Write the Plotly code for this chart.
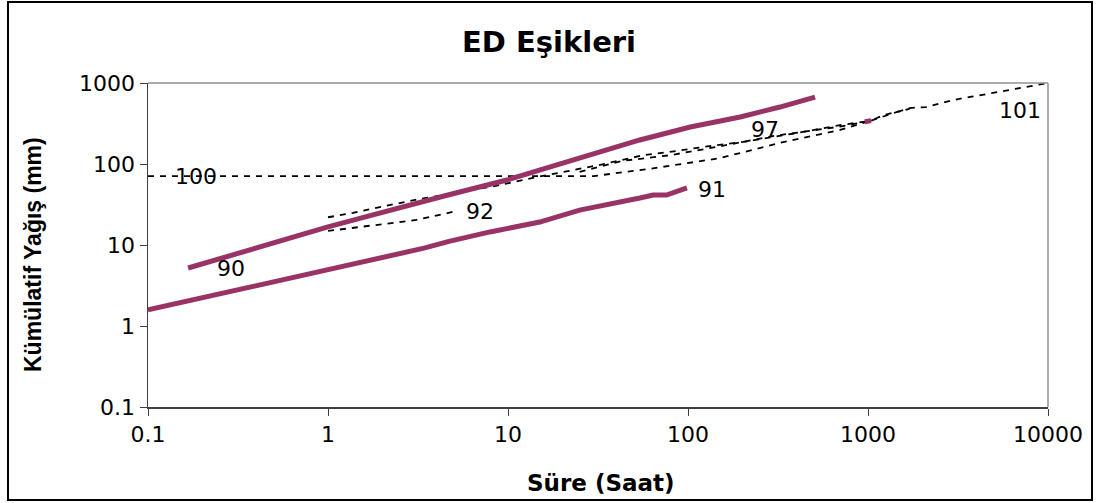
import math
import plotly.graph_objects as go

# ---- data ----
s90_x = [0.167, 0.316, 0.548, 1.0, 1.52, 2.54, 4.19, 4.64, 9.87, 23, 54, 103, 195, 324, 508]
s90_y = [5.2, 7.96, 11.5, 16.7, 21.5, 29.4, 39.2, 41.4, 63.4, 112, 198, 286, 380, 505, 671]

s91_x = [0.1, 0.41, 1.0, 1.97, 3.46, 4.64, 7.94, 15, 25, 54, 64, 76, 98.6]
s91_y = [1.58, 3.2, 4.9, 7.1, 9.2, 11.0, 14.5, 19.2, 27, 38, 41.4, 41.4, 50.6]

s100_x = [0.1, 1, 10, 30, 61, 150, 324, 700, 1026]
s100_y = [71, 71, 71, 71, 87, 118, 182, 263, 340]

s92_x = [1.0, 1.94, 3.1, 5.2]
s92_y = [14.9, 17.7, 20.4, 26.3]

s97_x = [1.0, 1.38, 1.94, 3.24, 5.4, 8.3, 15, 32, 57, 79, 121, 202, 403, 699, 1026, 1450, 1700]
s97_y = [22, 24.9, 29.4, 37, 45, 53, 70, 97, 129, 141, 162, 187, 241, 302, 340, 439, 480]

s101_x = [25, 43, 79, 150, 300, 700, 1026, 1230, 1450, 1700, 2100, 2970, 3700, 4950, 6150, 10000]
s101_y = [80, 109, 128, 165, 222, 290, 340, 403, 439, 491, 505, 617, 672, 752, 820, 1000]

dot_x = [960, 1040]
dot_y = [333, 343]

label_text = ["100", "90", "92", "91", "97", "101"]
label_x = [0.185, 0.289, 6.98, 136, 268, 6980]
label_y = [71, 5.2, 26, 47.9, 263, 464]

x_ticks = [0.1, 1, 10, 100, 1000, 10000]
x_tick_text = ["0.1", "1", "10", "100", "1000", "10000"]
y_ticks = [0.1, 1, 10, 100, 1000]
y_tick_text = ["0.1", "1", "10", "100", "1000"]

PURPLE = "#993366"
DASH = "6px,6px"

fig = go.Figure()
for xs, ys in [(s100_x, s100_y), (s92_x, s92_y), (s97_x, s97_y), (s101_x, s101_y)]:
    fig.add_trace(go.Scatter(x=xs, y=ys, mode="lines",
                             line=dict(color="black", width=1.8, dash=DASH),
                             hoverinfo="skip", showlegend=False))
for xs, ys in [(s90_x, s90_y), (s91_x, s91_y), (dot_x, dot_y)]:
    fig.add_trace(go.Scatter(x=xs, y=ys, mode="lines",
                             line=dict(color=PURPLE, width=5),
                             hoverinfo="skip", showlegend=False))

for t, lx, ly in zip(label_text, label_x, label_y):
    fig.add_annotation(x=math.log10(lx), y=math.log10(ly), text=t, showarrow=False,
                       font=dict(family="DejaVu Sans", size=22, color="black"),
                       xanchor="center", yanchor="middle")

# body margin is removed by a post script, so figure pixels = page pixels
W, H = 1098, 503
L, T = 148, 83
pw, ph = 900, 324
R = W - L - pw
B = H - T - ph

def px(xp):  # page pixel -> paper x
    return (xp - L) / pw

def py(yp):  # page pixel -> paper y
    return (T + ph - yp) / ph

fig.update_layout(
    width=W, height=H,
    margin=dict(l=L, r=R, t=T, b=B),
    paper_bgcolor="white", plot_bgcolor="white",
    showlegend=False,
    title=dict(text="<b>ED Eşikleri</b>", x=0.5, xanchor="center",
               y=1 - 42 / H, yanchor="middle",
               font=dict(family="DejaVu Sans", size=29, color="black")),
)
fig.update_xaxes(type="log", range=[-1, 4], tickvals=x_ticks, ticktext=x_tick_text,
                 showgrid=False, zeroline=False, showline=True, linecolor="#404040",
                 linewidth=1.5, ticks="outside", ticklen=7, tickcolor="#404040",
                 tickfont=dict(family="DejaVu Sans", size=22, color="black"))
fig.update_yaxes(type="log", range=[-1, 3], tickvals=y_ticks, ticktext=y_tick_text,
                 showgrid=False, zeroline=False, showline=True, linecolor="#404040",
                 linewidth=1.5, ticks="outside", ticklen=7, tickcolor="#404040",
                 tickfont=dict(family="DejaVu Sans", size=22, color="black"))

# axis titles
fig.add_annotation(xref="paper", yref="paper", x=px(601), y=py(483), text="<b>Süre (Saat)</b>",
                   showarrow=False, xanchor="center", yanchor="middle",
                   font=dict(family="DejaVu Sans", size=23, color="black"))
fig.add_annotation(xref="paper", yref="paper", x=px(33), y=py(255), text="<b>Kümülatif Yağış (mm)</b>",
                   showarrow=False, xanchor="center", yanchor="middle", textangle=-90,
                   font=dict(family="Liberation Sans", size=23, color="black"))

# plot area top/right border (gray) and outer chart border (black)
fig.add_shape(type="line", xref="paper", yref="paper", x0=0, x1=1, y0=1, y1=1,
              line=dict(color="#909090", width=1.5))
fig.add_shape(type="line", xref="paper", yref="paper", x0=1, x1=1, y0=0, y1=1,
              line=dict(color="#909090", width=1.5))
fig.add_shape(type="rect", xref="paper", yref="paper",
              x0=px(8), x1=px(1092), y0=py(500), y1=py(2),
              line=dict(color="black", width=2), fillcolor="rgba(0,0,0,0)", layer="above")

fig.write_html("out.html",
               config={"displayModeBar": False, "staticPlot": True},
               post_script="document.body.style.margin='0';document.body.style.overflow='hidden';")
